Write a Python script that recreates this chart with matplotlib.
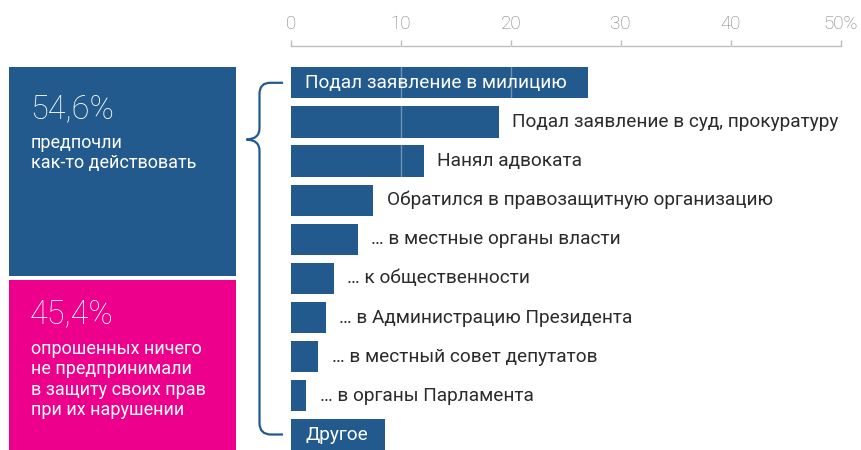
import matplotlib
matplotlib.use("Agg")
import matplotlib.pyplot as plt
from matplotlib.patches import Rectangle, PathPatch
from matplotlib.path import Path

# ---------------- data ----------------
categories = [
    "Подал заявление в милицию",
    "Подал заявление в суд, прокуратуру",
    "Нанял адвоката",
    "Обратился в правозащитную организацию",
    "… в местные органы власти",
    "… к общественности",
    "… в Администрацию Президента",
    "… в местный совет депутатов",
    "… в органы Парламента",
    "Другое",
]
values = [27.0, 18.9, 12.1, 7.5, 6.1, 3.9, 3.2, 2.5, 1.4, 8.6]
label_inside = [True, False, False, False, False, False, False, False, False, True]
tick_values = [0, 10, 20, 30, 40, 50]
tick_labels = ["0", "10", "20", "30", "40", "50%"]
share_acted = 54.6
share_none = 45.4
text_acted = "предпочли\nкак-то действовать"
text_none = "опрошенных ничего\nне предпринимали\nв защиту своих прав\nпри их нарушении"

# ---------------- style ----------------
FONT = ["Roboto", "DejaVu Sans"]
plt.rcParams["font.family"] = FONT
BLUE = "#225a8e"
PINK = "#ec008c"
TEXT = "#2b2b2b"
GRID_GRAY = "#bdbdbd"
TICK_TEXT = "#7f7f7f"
LABEL_SIZE = 13.7
SIDE_SIZE = 13.0

W, H = 862, 450
fig = plt.figure(figsize=(W / 100, H / 100), dpi=100)

# overlay axes in pixel coordinates for decorations
ov = fig.add_axes([0, 0, 1, 1])
ov.set_xlim(0, W)
ov.set_ylim(H, 0)
ov.axis("off")

ov.add_patch(Rectangle((9, 67), 227, 209, color=BLUE, lw=0))
ov.add_patch(Rectangle((9, 279.5), 227, 175, color=PINK, lw=0))

fmt = lambda v: f"{v:.1f}".replace(".", ",") + "%"
ov.text(30, 118.5, fmt(share_acted), color="white", fontsize=23.5,
        ha="left", va="baseline", fontweight="light")
ov.text(31, 168.3, text_acted, color="white", fontsize=SIDE_SIZE, ha="left",
        va="baseline", linespacing=1.17)
ov.text(30, 323, fmt(share_none), color="white", fontsize=23.5,
        ha="left", va="baseline", fontweight="light")
ov.text(31, 415, text_none, color="white", fontsize=SIDE_SIZE, ha="left",
        va="baseline", linespacing=1.17)

# curly bracket
verts = [
    (283, 82.8), (270, 82.8),
    (259.5, 82.8), (259.5, 94),
    (259.5, 128),
    (259.5, 139.3), (246.5, 139.5),
    (259.5, 139.8), (259.5, 151),
    (259.5, 423),
    (259.5, 434.5), (271, 434.5),
    (283, 434.5),
]
codes = [Path.MOVETO, Path.LINETO,
         Path.CURVE3, Path.CURVE3,
         Path.LINETO,
         Path.CURVE3, Path.CURVE3,
         Path.CURVE3, Path.CURVE3,
         Path.LINETO,
         Path.CURVE3, Path.CURVE3,
         Path.LINETO]
ov.add_patch(PathPatch(Path(verts, codes), facecolor="none", edgecolor=BLUE, lw=1.6))

# ---------------- bar axes ----------------
x0_px, x50_px = 290.7, 840.7
axis_px = 46
c0_px, pitch = 82.8, 39.13
ax = fig.add_axes([x0_px / W, 0, (x50_px - x0_px) / W, (H - axis_px) / H])
ax.patch.set_alpha(0)
ax.set_xlim(0, 50)
ax.set_ylim((H - c0_px) / pitch, (axis_px - c0_px) / pitch)

ypos = list(range(len(categories)))
ax.barh(ypos, values, height=0.80, color=BLUE, zorder=2)
for x in tick_values[1:]:
    ax.axvline(x, color="white", alpha=0.35, lw=1, zorder=3)

for y, v, lab, inside in zip(ypos, values, categories, label_inside):
    if inside:
        ax.annotate(lab, (0, y), xytext=(10.3, 0), textcoords="offset points",
                    ha="left", va="center", color="white", fontsize=LABEL_SIZE, zorder=4)
    else:
        ax.annotate(lab, (v, y), xytext=(9.7, 0), textcoords="offset points",
                    ha="left", va="center", color=TEXT, fontsize=LABEL_SIZE, zorder=4)

ax.xaxis.tick_top()
ax.set_xticks(tick_values)
ax.set_xticklabels(tick_labels, fontweight="light")
ax.tick_params(axis="x", direction="out", length=4.3, width=1, color=GRID_GRAY,
               labelcolor=TICK_TEXT, labelsize=13.5, pad=5)
ax.set_yticks([])
for s in ["bottom", "left", "right"]:
    ax.spines[s].set_visible(False)
ax.spines["top"].set_color(GRID_GRAY)
ax.spines["top"].set_linewidth(1)

fig.savefig("out.png", dpi=100)
